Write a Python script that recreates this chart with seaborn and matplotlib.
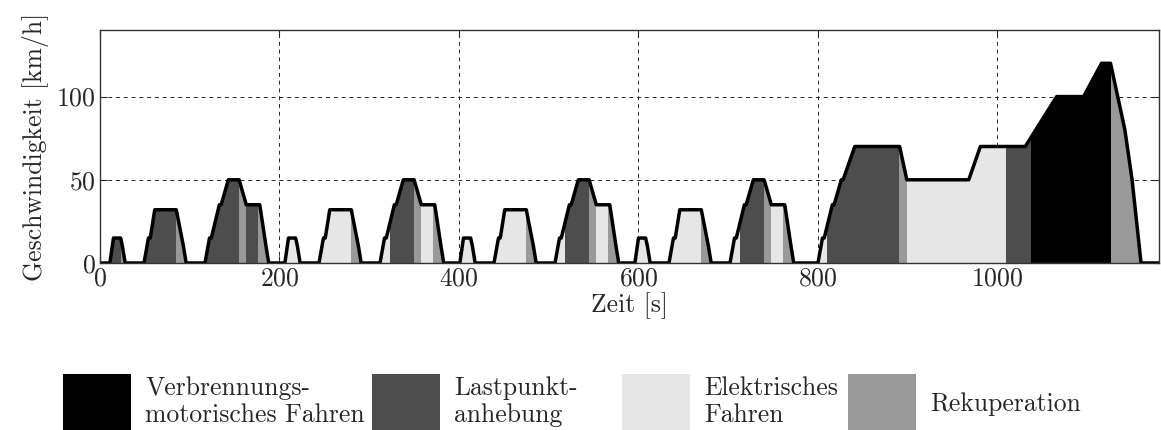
import matplotlib
matplotlib.use("Agg")
import matplotlib.pyplot as plt
import seaborn as sns
import pandas as pd
from matplotlib.patches import Patch

# ---------------- data (NEDC speed profile, key points) ----------------
time_s = [
    0, 11, 15, 23, 25, 28, 49, 54, 56, 61, 85, 93, 96, 117, 122, 124, 133, 135, 143, 155, 163, 176, 178, 185, 188,
    195, 206, 210, 218, 220, 223, 244, 249, 251, 256, 280, 288, 291, 312, 317, 319, 328, 330, 338, 350, 358, 371, 373, 380, 383,
    390, 401, 405, 413, 415, 418, 439, 444, 446, 451, 475, 483, 486, 507, 512, 514, 523, 525, 533, 545, 553, 566, 568, 575, 578,
    585, 596, 600, 608, 610, 613, 634, 639, 641, 646, 670, 678, 681, 702, 707, 709, 718, 720, 728, 740, 748, 761, 763, 770, 773,
    780, 800, 805, 807, 816, 818, 826, 828, 841, 891, 899, 968, 981, 1031, 1066, 1096, 1116, 1126, 1142, 1150, 1160, 1180,
]
speed_kmh = [
    0, 0, 15, 15, 10, 0, 0, 15, 15, 32, 32, 10, 0, 0, 15, 15, 35, 35, 50, 50, 35, 35, 35, 10, 0,
    0, 0, 15, 15, 10, 0, 0, 15, 15, 32, 32, 10, 0, 0, 15, 15, 35, 35, 50, 50, 35, 35, 35, 10, 0,
    0, 0, 15, 15, 10, 0, 0, 15, 15, 32, 32, 10, 0, 0, 15, 15, 35, 35, 50, 50, 35, 35, 35, 10, 0,
    0, 0, 15, 15, 10, 0, 0, 15, 15, 32, 32, 10, 0, 0, 15, 15, 35, 35, 50, 50, 35, 35, 35, 10, 0,
    0, 0, 15, 15, 35, 35, 50, 50, 70, 70, 50, 50, 70, 70, 100, 100, 120, 120, 80, 50, 0, 0,
]

# operating-mode segments: start, end, mode index
seg_start = [11, 23, 49, 85, 117, 155, 163, 176,
             206, 244, 280, 312, 323, 350, 358, 371,
             401, 439, 475, 507, 518, 545, 553, 566,
             596, 634, 670, 702, 713, 740, 748, 761,
             800, 810, 890, 899, 1010, 1037, 1126]
seg_end = [23, 28, 85, 96, 155, 163, 176, 188,
           223, 280, 291, 323, 350, 358, 371, 383,
           418, 475, 486, 518, 545, 553, 566, 578,
           613, 670, 681, 713, 740, 748, 761, 773,
           810, 890, 899, 1010, 1037, 1126, 1160]
seg_mode = [1, 3, 1, 3, 1, 3, 1, 3,
            2, 2, 3, 2, 1, 3, 2, 3,
            2, 2, 3, 2, 1, 3, 2, 3,
            2, 2, 3, 2, 1, 3, 2, 3,
            2, 1, 3, 2, 1, 0, 3]

mode_labels = ["Verbrennungs-\nmotorisches Fahren", "Lastpunkt-\nanhebung",
               "Elektrisches\nFahren", "Rekuperation"]
mode_colors = ["#000000", "#4d4d4d", "#e6e6e6", "#999999"]

x_ticks = [0, 200, 400, 600, 800, 1000]
y_ticks = [0, 50, 100]

# ---------------- style ----------------
FS = 18.5
sns.set_style("ticks")
plt.rcParams["font.family"] = ["cmr10", "DejaVu Serif"]
plt.rcParams["axes.formatter.use_mathtext"] = True
plt.rcParams["font.size"] = FS

df = pd.DataFrame({"Zeit": time_s, "v": speed_kmh})

W, H = 1161, 430
fig = plt.figure(figsize=(W / 100, H / 100), dpi=100)
ax = fig.add_axes([100 / W, 167 / H, 1059 / W, 233 / H])

# area under the curve used as clip region
area = ax.fill_between(df["Zeit"], df["v"], 0, facecolor="none", edgecolor="none")
clip = area.get_paths()[0]
for s, e, m in zip(seg_start, seg_end, seg_mode):
    r = ax.axvspan(s, e, color=mode_colors[m], lw=0, zorder=1)
    r.set_clip_path(clip, ax.transData)

sns.lineplot(data=df, x="Zeit", y="v", ax=ax, color="black", lw=2.5,
             sort=False, estimator=None, zorder=3)
for ln in ax.get_lines():
    ln.set_solid_joinstyle("round")
    ln.set_solid_capstyle("round")

ax.set_xlim(0, 1180)
ax.set_ylim(0, 140)
ax.set_xticks(x_ticks)
ax.set_yticks(y_ticks)
ax.grid(True, color="0.15", linestyle=(0, (4, 4)), linewidth=0.7)
for g in ax.get_xgridlines() + ax.get_ygridlines():
    g.set_zorder(2)
ax.tick_params(direction="in", length=5, width=0.8, pad=3, labelsize=FS,
               top=True, right=True)
for sp in ax.spines.values():
    sp.set_linewidth(1.0)
    sp.set_color("0.2")
    sp.set_zorder(4)
ax.set_xlabel("Zeit [s]", fontsize=FS, labelpad=1)
ax.set_ylabel("Geschwindigkeit [km/h]", fontsize=FS, labelpad=5)

# legend: one entry per block, placed at the reference positions
legend_x = [63, 372, 622, 848]
for c, lab, x in zip(mode_colors, mode_labels, legend_x):
    fig.legend([Patch(facecolor=c, edgecolor="none")], [lab], loc="upper left",
               bbox_to_anchor=(x / W, 56 / H), frameon=False,
               handlelength=2.65, handleheight=3.2, handletextpad=0.55,
               borderpad=0, borderaxespad=0, fontsize=FS)

fig.savefig("out.png", dpi=100)
